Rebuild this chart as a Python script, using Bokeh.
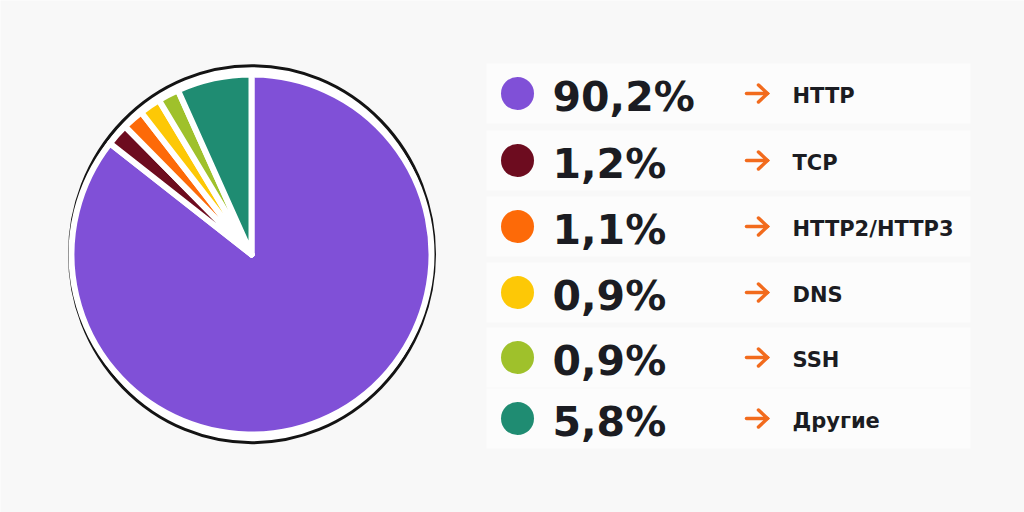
import math
from bokeh.plotting import figure
from bokeh.models import ColumnDataSource, Range1d
from bokeh.core.properties import value
from bokeh.embed import file_html
from bokeh.resources import INLINE

# ---- data ----
protocols = ["HTTP", "TCP", "HTTP2/HTTP3", "DNS", "SSH", "Другие"]
percent_labels = ["90,2%", "1,2%", "1,1%", "0,9%", "0,9%", "5,8%"]
# slice sizes as drawn in the picture (share of the full circle, %)
drawn_share = [85.6, 2.0, 1.9, 1.9, 1.9, 6.7]
colors = ["#8050d7", "#6d0c1f", "#fd6a08", "#fdc806", "#9fc12b", "#1f8c72"]

# ---- layout (page pixel coordinates) ----
W, H = 1024, 512
BG = "#f8f8f8"
PANEL = "#fcfcfc"
TEXT = "#1b1c22"
ARROW = "#f26b1d"
row_y = [93, 160, 226, 292, 357, 418]


def Y(v):
    return H - v


p = figure(width=W, height=H, output_backend="svg", toolbar_location=None,
           x_range=Range1d(0, W), y_range=Range1d(0, H),
           min_border=0, outline_line_color=None,
           background_fill_color=BG, border_fill_color=BG)
p.axis.visible = False
p.grid.visible = False

# row panels
p.quad(left=[486] * 6, right=[970] * 6,
       top=[Y(c - 30) for c in row_y], bottom=[Y(c + 30) for c in row_y],
       fill_color=PANEL, line_color=None)

# ring behind the pie
p.ellipse(x=[251.5], y=[Y(253.7)], width=[365], height=[377],
          fill_color="white", line_color="#141414", line_width=3)

# pie
starts, ends = [], []
cum = 0.0
for s in drawn_share:
    starts.append(math.pi / 2 - 2 * math.pi * cum / 100.0)
    cum += s
    ends.append(math.pi / 2 - 2 * math.pi * cum / 100.0)
pie_src = ColumnDataSource(dict(start=starts, end=ends, color=colors))
p.wedge(x=251, y=Y(254), radius=180, start_angle="start", end_angle="end",
        direction="clock", fill_color="color", line_color="white",
        line_width=6, line_join="round", source=pie_src)

# legend markers
p.circle(x=[517] * 6, y=[Y(c) for c in row_y], radius=16.5,
         fill_color=colors, line_color=None)

# percentages
p.text(x=[552] * 6, y=[Y(c + 3) for c in row_y], text=percent_labels,
       text_font=value("DejaVu Sans"), text_font_style="bold",
       text_font_size="41px", text_baseline="middle", text_align="left",
       text_color=TEXT)

# arrows
p.segment(x0=[746] * 6, y0=[Y(c) for c in row_y], x1=[767] * 6,
          y1=[Y(c) for c in row_y], line_color=ARROW, line_width=3.5,
          line_cap="round")
p.multi_line(xs=[[758, 767, 758] for c in row_y],
             ys=[[Y(c - 8.5), Y(c), Y(c + 8.5)] for c in row_y],
             line_color=ARROW, line_width=3.5, line_cap="round",
             line_join="miter")

# protocol names
p.text(x=[792] * 6, y=[Y(c + 2) for c in row_y], text=protocols,
       text_font=value("DejaVu Sans"), text_font_style="bold",
       text_font_size="21px", text_baseline="middle", text_align="left",
       text_color=TEXT)

open("out.html", "w").write(file_html(p, INLINE))
